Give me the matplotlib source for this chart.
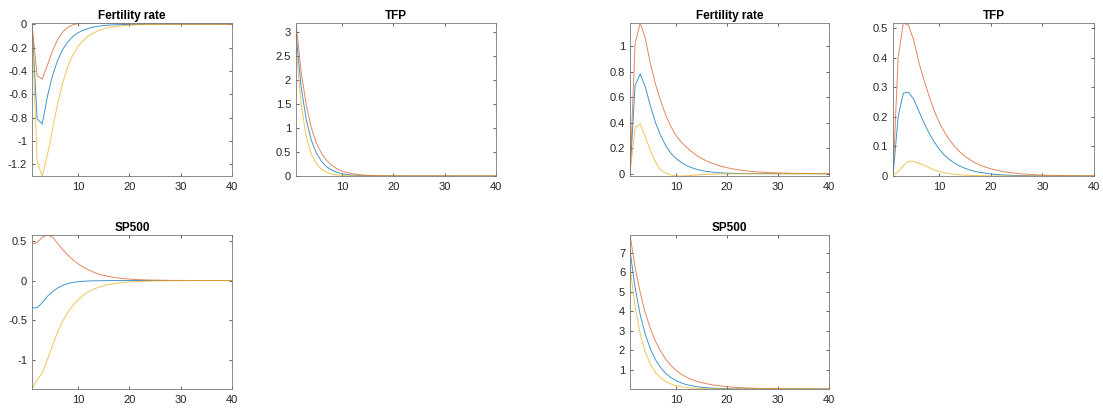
import numpy as np
import matplotlib
matplotlib.use("Agg")
import matplotlib.pyplot as plt
from matplotlib.ticker import FuncFormatter, FixedLocator

plt.rcParams['font.family'] = ['Liberation Sans', 'DejaVu Sans']
plt.rcParams['axes.unicode_minus'] = False

horizon = np.arange(1, 41)

# MATLAB default line colours
c_blue = '#0072BD'
c_red = '#D95319'
c_yellow = '#EDB120'

# --- Fertility rate (negative responses) ---
fert_neg_blue = [0, -0.81, -0.855, -0.62, -0.44, -0.31, -0.215, -0.15, -0.105, -0.073,
                 -0.051, -0.036, -0.025, -0.017, -0.012, -0.0085, -0.006, -0.0042, -0.003, -0.002,
                 -0.0015, -0.001, -0.0007, -0.0005, -0.0004, -0.0003, -0.0002, -0.00015, -0.0001, -0.0001,
                 -0.0001, 0, 0, 0, 0, 0, 0, 0, 0, 0]
fert_neg_red = [0, -0.44, -0.47, -0.35, -0.23, -0.13, -0.065, -0.027, -0.005, 0.005,
                0.009, 0.010, 0.0095, 0.0085, 0.0075, 0.0065, 0.0055, 0.0047, 0.004, 0.0034,
                0.0028, 0.0024, 0.002, 0.0017, 0.0014, 0.0012, 0.001, 0.0008, 0.0007, 0.0006,
                0.0005, 0.0004, 0.0003, 0.0003, 0.0002, 0.0002, 0.0001, 0.0001, 0.0001, 0.0001]
fert_neg_yellow = [0, -1.18, -1.30, -1.12, -0.90, -0.68, -0.50, -0.36, -0.26, -0.19,
                   -0.14, -0.10, -0.075, -0.055, -0.04, -0.03, -0.022, -0.016, -0.012, -0.009,
                   -0.0065, -0.0048, -0.0035, -0.0026, -0.0019, -0.0014, -0.001, -0.0008, -0.0006, -0.0004,
                   -0.0003, -0.0002, -0.0002, -0.0001, -0.0001, -0.0001, 0, 0, 0, 0]

# --- TFP (first block) ---
tfp_a_blue = [2.95, 1.86, 1.17, 0.74, 0.47, 0.30, 0.19, 0.12, 0.075, 0.047,
              0.03, 0.019, 0.012, 0.008, 0.005, 0.003, 0.002, 0.0013, 0.0008, 0.0005,
              0.0003, 0.0002, 0.0001, 0.0001, 0, 0, 0, 0, 0, 0,
              0, 0, 0, 0, 0, 0, 0, 0, 0, 0]
tfp_a_red = [3.19, 2.17, 1.48, 1.00, 0.68, 0.47, 0.32, 0.22, 0.15, 0.10,
             0.07, 0.048, 0.033, 0.022, 0.015, 0.011, 0.008, 0.006, 0.004, 0.003,
             0.002, 0.0015, 0.001, 0.0007, 0.0005, 0.0004, 0.0003, 0.0002, 0.0001, 0.0001,
             0, 0, 0, 0, 0, 0, 0, 0, 0, 0]
tfp_a_yellow = [2.70, 1.49, 0.82, 0.45, 0.25, 0.14, 0.075, 0.041, 0.023, 0.013,
                0.007, 0.004, 0.002, 0.001, 0.0006, 0.0003, 0.0002, 0.0001, 0, 0,
                0, 0, 0, 0, 0, 0, 0, 0, 0, 0,
                0, 0, 0, 0, 0, 0, 0, 0, 0, 0]

# --- Fertility rate (positive responses) ---
fert_pos_blue = [0, 0.69, 0.78, 0.68, 0.53, 0.40, 0.30, 0.22, 0.16, 0.12,
                 0.09, 0.065, 0.048, 0.035, 0.025, 0.018, 0.013, 0.009, 0.006, 0.004,
                 0.003, 0.002, 0.0015, 0.001, 0.0007, 0.0005, 0.0003, 0.0002, 0.0001, 0.0001,
                 0, 0, 0, 0, 0, 0, 0, 0, 0, 0]
fert_pos_red = [0, 1.02, 1.18, 1.06, 0.86, 0.70, 0.57, 0.46, 0.37, 0.30,
                0.25, 0.21, 0.175, 0.145, 0.12, 0.10, 0.083, 0.069, 0.057, 0.047,
                0.039, 0.032, 0.026, 0.021, 0.017, 0.014, 0.011, 0.009, 0.007, 0.006,
                0.005, 0.004, 0.0032, 0.0026, 0.002, 0.0016, 0.0013, 0.001, 0.0008, 0.0006]
fert_pos_yellow = [0, 0.36, 0.39, 0.29, 0.18, 0.09, 0.03, 0.005, -0.01, -0.017,
                   -0.018, -0.016, -0.013, -0.01, -0.008, -0.006, -0.0045, -0.0033, -0.0024, -0.0017,
                   -0.0012, -0.0009, -0.0006, -0.0004, -0.0003, -0.0002, -0.0001, -0.0001, 0, 0,
                   0, 0, 0, 0, 0, 0, 0, 0, 0, 0]

# --- TFP (second block) ---
tfp_b_blue = [0, 0.20, 0.28, 0.283, 0.26, 0.22, 0.18, 0.145, 0.115, 0.09,
              0.07, 0.055, 0.043, 0.033, 0.026, 0.02, 0.015, 0.012, 0.009, 0.007,
              0.005, 0.004, 0.003, 0.0023, 0.0017, 0.0013, 0.001, 0.0008, 0.0006, 0.0004,
              0.0003, 0.0002, 0.0002, 0.0001, 0.0001, 0.0001, 0, 0, 0, 0]
tfp_b_red = [0, 0.40, 0.517, 0.51, 0.46, 0.385, 0.325, 0.27, 0.22, 0.18,
             0.148, 0.121, 0.099, 0.081, 0.066, 0.054, 0.044, 0.036, 0.030, 0.024,
             0.020, 0.016, 0.013, 0.011, 0.009, 0.007, 0.006, 0.005, 0.004, 0.003,
             0.0025, 0.002, 0.0017, 0.0014, 0.0011, 0.0009, 0.0007, 0.0006, 0.0005, 0.0004]
tfp_b_yellow = [0, 0.015, 0.035, 0.05, 0.05, 0.044, 0.036, 0.028, 0.021, 0.015,
                0.011, 0.008, 0.006, 0.004, 0.003, 0.002, 0.0015, 0.001, 0.0007, 0.0005,
                0.0003, 0.0002, 0.0001, 0.0001, 0, 0, 0, 0, 0, 0,
                0, 0, 0, 0, 0, 0, 0, 0, 0, 0]

# --- SP500 (first block) ---
sp_a_blue = [-0.345, -0.345, -0.28, -0.2, -0.14, -0.095, -0.06, -0.038, -0.024, -0.015,
             -0.009, -0.006, -0.004, -0.0025, -0.0015, -0.001, -0.0006, -0.0004, -0.0002, -0.0001,
             0, 0, 0, 0, 0, 0, 0, 0, 0, 0,
             0, 0, 0, 0, 0, 0, 0, 0, 0, 0]
sp_a_red = [0.46, 0.48, 0.545, 0.575, 0.55, 0.47, 0.39, 0.32, 0.26, 0.21,
            0.17, 0.135, 0.105, 0.08, 0.065, 0.05, 0.04, 0.03, 0.023, 0.018,
            0.014, 0.011, 0.008, 0.006, 0.005, 0.004, 0.003, 0.002, 0.0015, 0.001,
            0.0008, 0.0006, 0.0004, 0.0003, 0.0002, 0.0002, 0.0001, 0.0001, 0, 0]
sp_a_yellow = [-1.37, -1.25, -1.17, -1.0, -0.82, -0.65, -0.51, -0.40, -0.31, -0.24,
               -0.185, -0.14, -0.11, -0.085, -0.065, -0.05, -0.04, -0.03, -0.023, -0.018,
               -0.014, -0.011, -0.008, -0.006, -0.005, -0.004, -0.003, -0.002, -0.0015, -0.001,
               -0.0008, -0.0006, -0.0004, -0.0003, -0.0002, -0.0002, -0.0001, -0.0001, 0, 0]

# --- SP500 (second block) ---
sp_b_blue = [7.1, 5.2, 3.8, 2.8, 2.05, 1.5, 1.1, 0.8, 0.59, 0.43,
             0.32, 0.23, 0.17, 0.125, 0.09, 0.067, 0.049, 0.036, 0.026, 0.019,
             0.014, 0.01, 0.0075, 0.0055, 0.004, 0.003, 0.0024, 0.002, 0.0017, 0.0015,
             0.0013, 0.0012, 0.0011, 0.001, 0.001, 0.001, 0.001, 0.001, 0.001, 0.001]
sp_b_red = [7.9, 6.25, 4.95, 3.9, 3.1, 2.45, 1.94, 1.53, 1.21, 0.96,
            0.77, 0.62, 0.50, 0.40, 0.33, 0.27, 0.22, 0.18, 0.15, 0.12,
            0.10, 0.08, 0.065, 0.053, 0.043, 0.035, 0.028, 0.023, 0.019, 0.015,
            0.012, 0.010, 0.008, 0.0065, 0.005, 0.004, 0.0033, 0.0027, 0.0022, 0.0018]
sp_b_yellow = [6.3, 4.2, 2.83, 1.9, 1.27, 0.85, 0.57, 0.38, 0.26, 0.17,
               0.115, 0.077, 0.052, 0.035, 0.023, 0.016, 0.01, 0.007, 0.005, 0.0035,
               0.0025, 0.002, 0.0017, 0.0015, 0.0013, 0.0012, 0.0011, 0.001, 0.001, 0.001,
               0.001, 0.001, 0.001, 0.001, 0.001, 0.001, 0.001, 0.001, 0.001, 0.001]

titles = ['Fertility rate', 'TFP', 'Fertility rate', 'TFP', 'SP500', 'SP500']
yticks = [
    [-1.2, -1, -0.8, -0.6, -0.4, -0.2, 0],
    [0, 0.5, 1, 1.5, 2, 2.5, 3],
    [0, 0.2, 0.4, 0.6, 0.8, 1],
    [0, 0.1, 0.2, 0.3, 0.4, 0.5],
    [-1, -0.5, 0, 0.5],
    [1, 2, 3, 4, 5, 6, 7],
]
series = [
    (fert_neg_blue, fert_neg_red, fert_neg_yellow),
    (tfp_a_blue, tfp_a_red, tfp_a_yellow),
    (fert_pos_blue, fert_pos_red, fert_pos_yellow),
    (tfp_b_blue, tfp_b_red, tfp_b_yellow),
    (sp_a_blue, sp_a_red, sp_a_yellow),
    (sp_b_blue, sp_b_red, sp_b_yellow),
]

W, H = 1103, 409
fig = plt.figure(figsize=(W / 100, H / 100), dpi=100)

# panel boxes in pixels: left, top, width, height
boxes = [
    (32, 23, 200, 153),
    (296, 23, 200, 153),
    (630, 23, 199, 153),
    (893, 23, 201, 153),
    (32, 235, 200, 154),
    (630, 235, 199, 154),
]

fmt = FuncFormatter(lambda v, p: '{:g}'.format(round(v, 6)))

for box, title, yt, (b, r, y) in zip(boxes, titles, yticks, series):
    l, t, w, h = box
    ax = fig.add_axes([l / W, (H - t - h) / H, w / W, h / H])
    ax.plot(horizon, b, color=c_blue, lw=0.7, alpha=0.75)
    ax.plot(horizon, r, color=c_red, lw=0.7, alpha=0.7)
    ax.plot(horizon, y, color=c_yellow, lw=0.7, alpha=0.75)
    allv = np.concatenate([b, r, y])
    ax.set_xlim(1, 40)
    ax.set_ylim(allv.min(), allv.max())
    ax.xaxis.set_major_locator(FixedLocator([10, 20, 30, 40]))
    ax.yaxis.set_major_locator(FixedLocator(yt))
    ax.yaxis.set_major_formatter(fmt)
    ax.tick_params(direction='in', length=2.5, width=0.5, labelsize=8,
                   colors='#262626', top=True, right=True)
    ax.tick_params(axis='x', pad=4.5)
    ax.tick_params(axis='y', pad=3.5)
    for s in ax.spines.values():
        s.set_linewidth(0.6)
        s.set_color('#777777')
    ax.set_title(title, fontsize=8.5, fontweight='bold', color='black', pad=3)

fig.savefig('out.png', dpi=100)
